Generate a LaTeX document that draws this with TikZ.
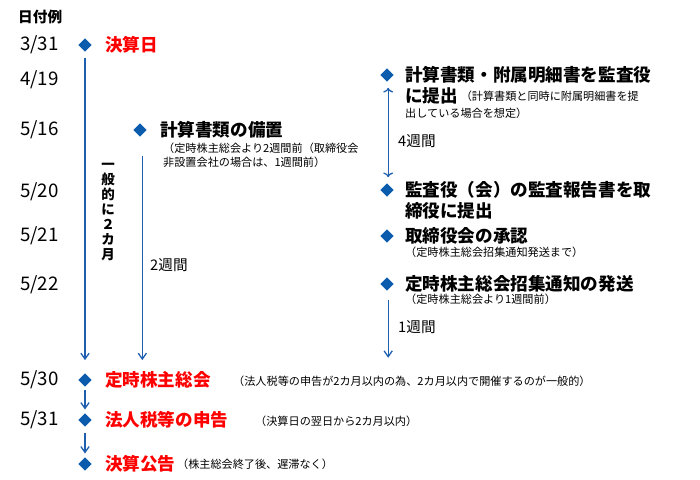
\documentclass[tikz,border=0pt]{standalone}
\usepackage{fontspec}
\setmainfont{Noto Sans CJK JP}
\usetikzlibrary{shapes.geometric,arrows.meta,positioning}
\definecolor{lineblue}{HTML}{1F5FAF}
\definecolor{markblue}{HTML}{0B5CAD}

\begin{document}
\begin{tikzpicture}[x=0.03cm, y=-0.03cm,
    dia/.style={diamond, fill=markblue, inner sep=0pt, minimum width=11.5pt, minimum height=11.5pt},
    date/.style={anchor=west, inner sep=0pt, font=\fontsize{16}{16}\selectfont},
    evt/.style={anchor=west, inner sep=0pt, font=\fontsize{15}{15}\selectfont\bfseries},
    keyevt/.style={evt, text=red},
    note/.style={anchor=west, inner sep=0pt, font=\fontsize{9.5}{12}\selectfont},
    span/.style={inner sep=0pt, font=\fontsize{12.5}{12.5}\selectfont},
    flow/.style={draw=lineblue, line width=1.1pt, -{Straight Barb[length=5pt,width=7pt]}}]
    \useasboundingbox (0,0) rectangle (700,480);
    \node[anchor=west, inner sep=0pt, font=\fontsize{12.5}{12.5}\selectfont\bfseries] (head) at (18,17) {日付例};
    % dates
    \node[date] (t0) at (20,45) {3/31};
    \node[date] (t1) at (20,80) {4/19};
    \node[date] (t2) at (20,130) {5/16};
    \node[date] (t3) at (20,192) {5/20};
    \node[date] (t4) at (20,236) {5/21};
    \node[date] (t5) at (20,285) {5/22};
    \node[date] (t6) at (20,380) {5/30};
    \node[date] (t7) at (20,420) {5/31};
    % left column
    \node[dia] (d0) at (85,45) {};
    \node[keyevt] (close) at (105,45) {決算日};
    \node[dia] (d5) at (85,380) {};
    \node[keyevt] (agm) at (105,380) {定時株主総会};
    \node[note] (agmnote) at (233,381) {（法人税等の申告が2カ月以内の為、2カ月以内で開催するのが一般的）};
    \node[dia] (d6) at (85,420) {};
    \node[keyevt] (tax) at (105,420) {法人税等の申告};
    \node[note] (taxnote) at (255,421) {（決算日の翌日から2カ月以内）};
    \node[dia] (d7) at (85,464) {};
    \node[keyevt] (notice) at (105,464) {決算公告};
    \node[note, right=1pt of notice] (noticenote) {（株主総会終了後、遅滞なく）};
    \node[span, align=center, font=\fontsize{11.5}{12.75}\selectfont\bfseries] (twomonth) at (108,212) {一\\般\\的\\に\\２\\カ\\月};
    % middle column
    \node[dia] (d1) at (140,130) {};
    \node[evt] (keep) at (160,130) {計算書類の備置};
    \node[note] (keepnote) at (163,148) {（定時株主総会より2週間前（取締役会};
    \node[note] (keepnote2) at (163,162) {非設置会社の場合は、1週間前）};
    \node[span, anchor=west] (twoweek) at (150,265) {2週間};
    % right column
    \node[dia] (d2) at (387,75) {};
    \node[evt] (audit) at (405,75) {計算書類・附属明細書を監査役};
    \node[evt] (audit2) at (405,96) {に提出};
    \node[note, right=2pt of audit2] (auditnote) {（計算書類と同時に附属明細書を提};
    \node[note] (auditnote2) at (405,113) {出している場合を想定）};
    \node[span, anchor=west] (fourweek) at (398,141) {4週間};
    \node[dia] (d3) at (387,190) {};
    \node[evt] (report) at (405,190) {監査役（会）の監査報告書を取};
    \node[evt] (report2) at (405,211) {締役に提出};
    \node[dia] (d4) at (387,236) {};
    \node[evt] (board) at (405,236) {取締役会の承認};
    \node[note] (boardnote) at (405,252) {（定時株主総会招集通知発送まで）};
    \node[dia] (d8) at (387,284) {};
    \node[evt] (send) at (405,284) {定時株主総会招集通知の発送};
    \node[note] (sendnote) at (405,299) {（定時株主総会より1週間前）};
    \node[span, anchor=west] (oneweek) at (398,327) {1週間};
    % connectors
    \draw[flow, shorten <=5pt, shorten >=11pt] (d0.south) -- (d5.north);
    \draw[flow, shorten <=16pt, shorten >=11pt] ([xshift=2pt]d1.south) -- ([xshift=2pt]d1.south |- d5.north);
    \draw[flow, <->, shorten <=5pt, shorten >=5pt] ([xshift=1pt]d2.south) -- ([xshift=1pt]d3.north);
    \draw[flow, shorten <=8pt, shorten >=13pt] ([xshift=1pt]d8.south) -- ([xshift=1pt]d8.south |- d5.north);
    \draw[flow, shorten <=3pt, shorten >=3pt] (d5.south) -- (d6.north);
    \draw[flow, shorten <=5pt, shorten >=3pt] (d6.south) -- (d7.north);
\end{tikzpicture}
\end{document}
